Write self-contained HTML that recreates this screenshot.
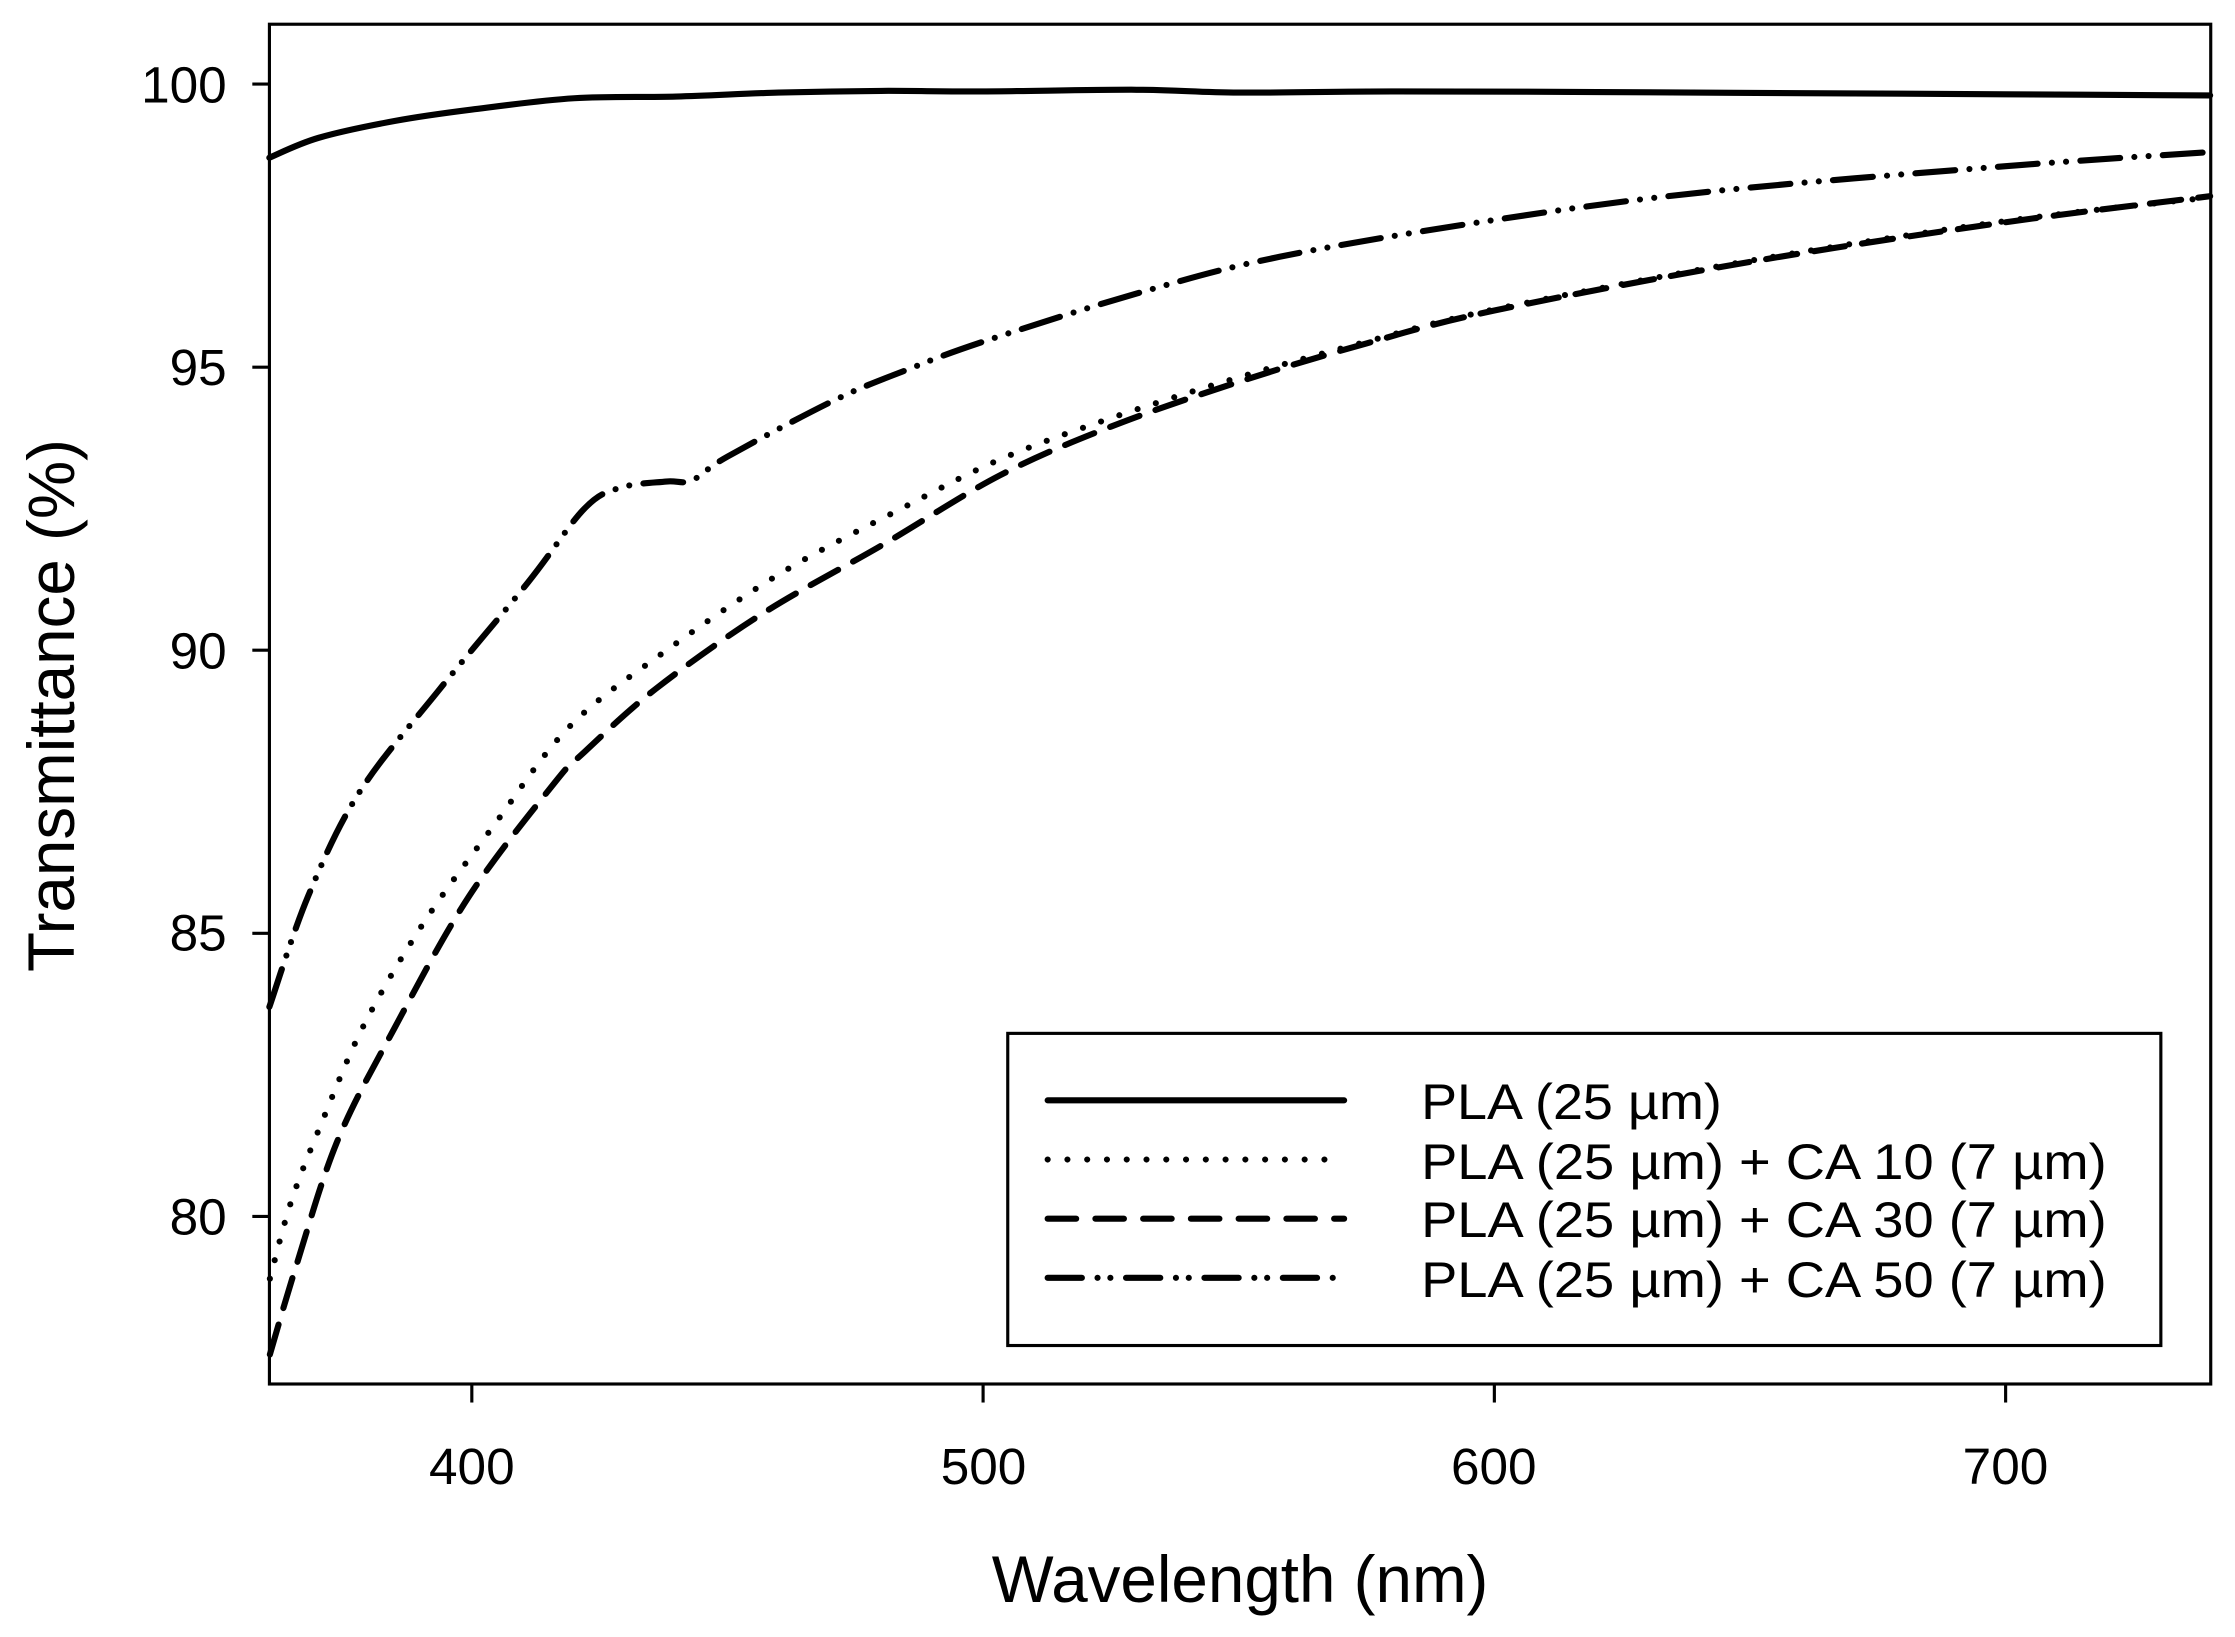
<!DOCTYPE html>
<html><head><meta charset="utf-8"><style>
html,body{margin:0;padding:0;background:#fff;}
svg{display:block;}
text{font-family:"Liberation Sans",Arial,sans-serif;fill:#000;}
</style></head><body>
<svg id="s" width="2235" height="1637" viewBox="0 0 1568 1148.5" xmlns="http://www.w3.org/2000/svg">
<rect x="0" y="0" width="1568" height="1148.5" fill="#fff"/>
<g id="curves" fill="none" stroke="#000" stroke-width="4.3" stroke-linecap="round" stroke-linejoin="round"></g>
<rect x="189" y="17" width="1362" height="954" fill="none" stroke="#000" stroke-width="2.2"/>
<g stroke="#000" stroke-width="2.2">
<line x1="177" y1="59" x2="189" y2="59"/>
<line x1="177" y1="257.6" x2="189" y2="257.6"/>
<line x1="177" y1="456.2" x2="189" y2="456.2"/>
<line x1="177" y1="654.8" x2="189" y2="654.8"/>
<line x1="177" y1="853.4" x2="189" y2="853.4"/>
<line x1="331" y1="971" x2="331" y2="984"/>
<line x1="689.7" y1="971" x2="689.7" y2="984"/>
<line x1="1048.4" y1="971" x2="1048.4" y2="984"/>
<line x1="1407.1" y1="971" x2="1407.1" y2="984"/>
</g>
<g font-size="36" text-anchor="end">
<text x="159" y="72">100</text>
<text x="159" y="270">95</text>
<text x="159" y="469">90</text>
<text x="159" y="667">85</text>
<text x="159" y="866">80</text>
</g>
<g font-size="36" text-anchor="middle">
<text x="331" y="1041">400</text>
<text x="690" y="1041">500</text>
<text x="1048" y="1041">600</text>
<text x="1407" y="1041">700</text>
</g>
<text x="870" y="1124" font-size="46" text-anchor="middle">Wavelength (nm)</text>
<text transform="translate(52,495) rotate(-90)" font-size="46" text-anchor="middle">Transmittance (%)</text>
<rect x="707" y="725" width="809" height="219" fill="#fff" stroke="#000" stroke-width="2.2"/>
<g stroke="#000" stroke-width="4.3" stroke-linecap="round">
<line x1="735" y1="772" x2="943" y2="772"/>
<line x1="735" y1="813.5" x2="943" y2="813.5" stroke-dasharray="0 13.87"/>
<line x1="735" y1="855" x2="943" y2="855" stroke-dasharray="20 13.5"/>
<line x1="735" y1="896.5" x2="943" y2="896.5" stroke-dasharray="24 11 0 9 0 11"/>
</g>
<g font-size="35">
<text x="997" y="785" textLength="211" lengthAdjust="spacingAndGlyphs">PLA (25 µm)</text>
<text x="997" y="827" textLength="481" lengthAdjust="spacingAndGlyphs">PLA (25 µm) + CA 10 (7 µm)</text>
<text x="997" y="868" textLength="481" lengthAdjust="spacingAndGlyphs">PLA (25 µm) + CA 30 (7 µm)</text>
<text x="997" y="910" textLength="481" lengthAdjust="spacingAndGlyphs">PLA (25 µm) + CA 50 (7 µm)</text>
</g>
</svg>
<script>
(function(){
function X(w){return 331+(w-400)*3.587;}
function Y(v){return 59+(100-v)*39.72;}
var series=[
{d:[[360.4,98.7],[370,99.05],[385,99.35],[400,99.55],[420,99.75],[440,99.78],[460,99.85],[480,99.88],[500,99.87],[530,99.9],[550,99.85],[580,99.87],[620,99.86],[660,99.84],[700,99.82],[740,99.8]],dash:""},
{d:[[360.4,83.7],[368,85.66],[378,87.49],[393.6,89.3],[411,91.2],[422,92.5],[429,92.87],[438,92.98],[443,93.0],[450,93.42],[471,94.42],[485,94.95],[500,95.45],[530,96.3],[558,96.95],[600,97.6],[642,98.1],[700,98.55],[740,98.8]],dash:"28 10 0 10 0 10"},
{d:[[360.5,78.9],[364.7,80.27],[370.7,81.67],[378.9,83.38],[390.4,85.16],[404.1,86.88],[419.1,88.65],[437.8,89.98],[460.6,91.37],[484.2,92.51],[503.3,93.37],[525,94.1],[550,94.82],[575,95.45],[600,96.02],[650,96.88],[700,97.58],[740,98.0]],dash:"0 13.5"},
{d:[[360.5,77.56],[365.6,79.11],[373.7,81.33],[384.9,83.33],[399.5,85.66],[416.2,87.66],[422,88.2],[436,89.32],[456.9,90.65],[480.5,91.87],[503.3,93.09],[525,93.95],[550,94.74],[575,95.42],[600,96.0],[650,96.86],[700,97.56],[740,98.02]],dash:"22 12"}
];
var g=document.getElementById('curves');
series.forEach(function(s){
 var p=s.d.map(function(a){return [X(a[0]),Y(a[1])];});
 var str="M"+p[0][0]+","+p[0][1];
 for(var i=0;i<p.length-1;i++){
  var p0=p[i-1]||p[i],p1=p[i],p2=p[i+1],p3=p[i+2]||p[i+1];
  var c1=[p1[0]+(p2[0]-p0[0])/6,p1[1]+(p2[1]-p0[1])/6];
  var c2=[p2[0]-(p3[0]-p1[0])/6,p2[1]-(p3[1]-p1[1])/6];
  str+=" C"+c1[0]+","+c1[1]+" "+c2[0]+","+c2[1]+" "+p2[0]+","+p2[1];
 }
 var path=document.createElementNS("http://www.w3.org/2000/svg","path");
 path.setAttribute("d",str);
 if(s.dash)path.setAttribute("stroke-dasharray",s.dash);
 g.appendChild(path);
});
})();
</script>
</body></html>
